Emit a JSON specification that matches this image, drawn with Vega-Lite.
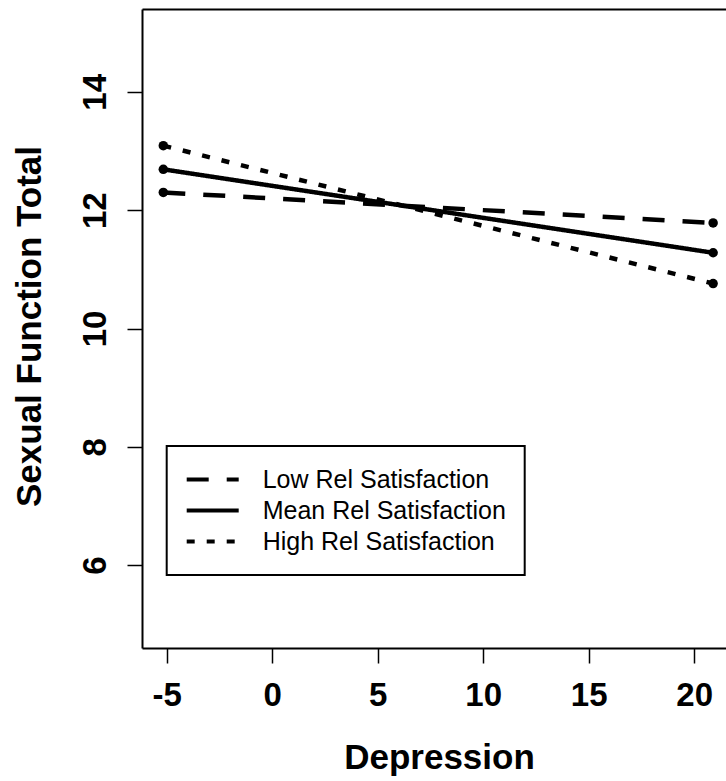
{
  "$schema": "https://vega.github.io/schema/vega-lite/v6.json",
  "width": 584,
  "height": 639,
  "autosize": {"type": "none"},
  "padding": {"left": 142, "top": 9, "right": 0, "bottom": 133},
  "background": "white",
  "config": {
    "view": {"stroke": null},
    "font": "Liberation Sans, Arial, sans-serif",
    "axis": {
      "grid": false,
      "domainColor": "black",
      "domainWidth": 2,
      "tickColor": "black",
      "tickWidth": 1.5,
      "tickSize": 15,
      "labelColor": "black",
      "titleColor": "black",
      "labelFont": "Liberation Sans",
      "titleFont": "Liberation Sans",
      "labelFontWeight": "bold",
      "titleFontWeight": "bold",
      "labelFontSize": 33,
      "titleFontSize": 35
    },
    "legend": {"strokeWidth": 2}
  },
  "data": {
    "values": [
      {"group": "Low Rel Satisfaction", "depression": -5.16, "sexfunc": 12.30},
      {"group": "Low Rel Satisfaction", "depression": 20.9, "sexfunc": 11.785},
      {"group": "Mean Rel Satisfaction", "depression": -5.16, "sexfunc": 12.69},
      {"group": "Mean Rel Satisfaction", "depression": 20.9, "sexfunc": 11.28},
      {"group": "High Rel Satisfaction", "depression": -5.16, "sexfunc": 13.09},
      {"group": "High Rel Satisfaction", "depression": 20.9, "sexfunc": 10.76}
    ]
  },
  "layer": [
    {
      "mark": {"type": "line", "color": "black", "strokeWidth": 4.5},
      "encoding": {
        "x": {
          "field": "depression",
          "type": "quantitative",
          "title": "Depression",
          "scale": {"domain": [-6.17, 21.51], "nice": false, "zero": false},
          "axis": {
            "values": [-5, 0, 5, 10, 15, 20],
            "labelExpr": "datum.value + ''",
            "labelBaseline": "alphabetic",
            "labelPadding": 42,
            "labelFlush": false,
            "labelOverlap": false,
            "titleX": 297,
            "titleY": 120,
            "titleBaseline": "alphabetic",
            "titleAlign": "center",
            "titleAnchor": null
          }
        },
        "y": {
          "field": "sexfunc",
          "type": "quantitative",
          "title": "Sexual Function Total",
          "scale": {"domain": [4.6, 15.4], "nice": false, "zero": false},
          "axis": {
            "values": [6, 8, 10, 12, 14],
            "labelExpr": "datum.value + ''",
            "labelAngle": 270,
            "labelAlign": "center",
            "labelBaseline": "alphabetic",
            "labelPadding": 22,
            "labelOverlap": false,
            "labelFlush": false,
            "titleAngle": 270,
            "titleX": -102,
            "titleY": 317,
            "titleAlign": "center",
            "titleBaseline": "alphabetic",
            "titleAnchor": null
          }
        },
        "strokeDash": {
          "field": "group",
          "type": "nominal",
          "scale": {
            "domain": ["Low Rel Satisfaction", "Mean Rel Satisfaction", "High Rel Satisfaction"],
            "range": [[22, 18], [1, 0], [8, 12]]
          },
          "legend": {
            "orient": "none",
            "legendX": 24.7,
            "legendY": 437,
            "title": null,
            "strokeColor": "black",
            "fillColor": "white",
            "padding": 18,
            "symbolType": "stroke",
            "symbolSize": 2704,
            "symbolStrokeWidth": 4,
            "symbolStrokeColor": "black",
            "labelFont": "Liberation Sans",
            "labelFontSize": 25,
            "labelColor": "black",
            "labelOffset": 22,
            "rowPadding": 0,
            "clipHeight": 31,
            "labelLimit": 400
          }
        }
      }
    },
    {
      "mark": {"type": "point", "filled": true, "color": "black", "size": 90, "opacity": 1},
      "encoding": {
        "x": {
          "field": "depression",
          "type": "quantitative",
          "axis": {"orient": "top", "labels": false, "ticks": false, "title": null, "domain": true}
        },
        "y": {"field": "sexfunc", "type": "quantitative", "title": "Sexual Function Total"},
        "detail": {"field": "group", "type": "nominal"}
      }
    }
  ],
  "resolve": {"axis": {"x": "independent"}}
}
